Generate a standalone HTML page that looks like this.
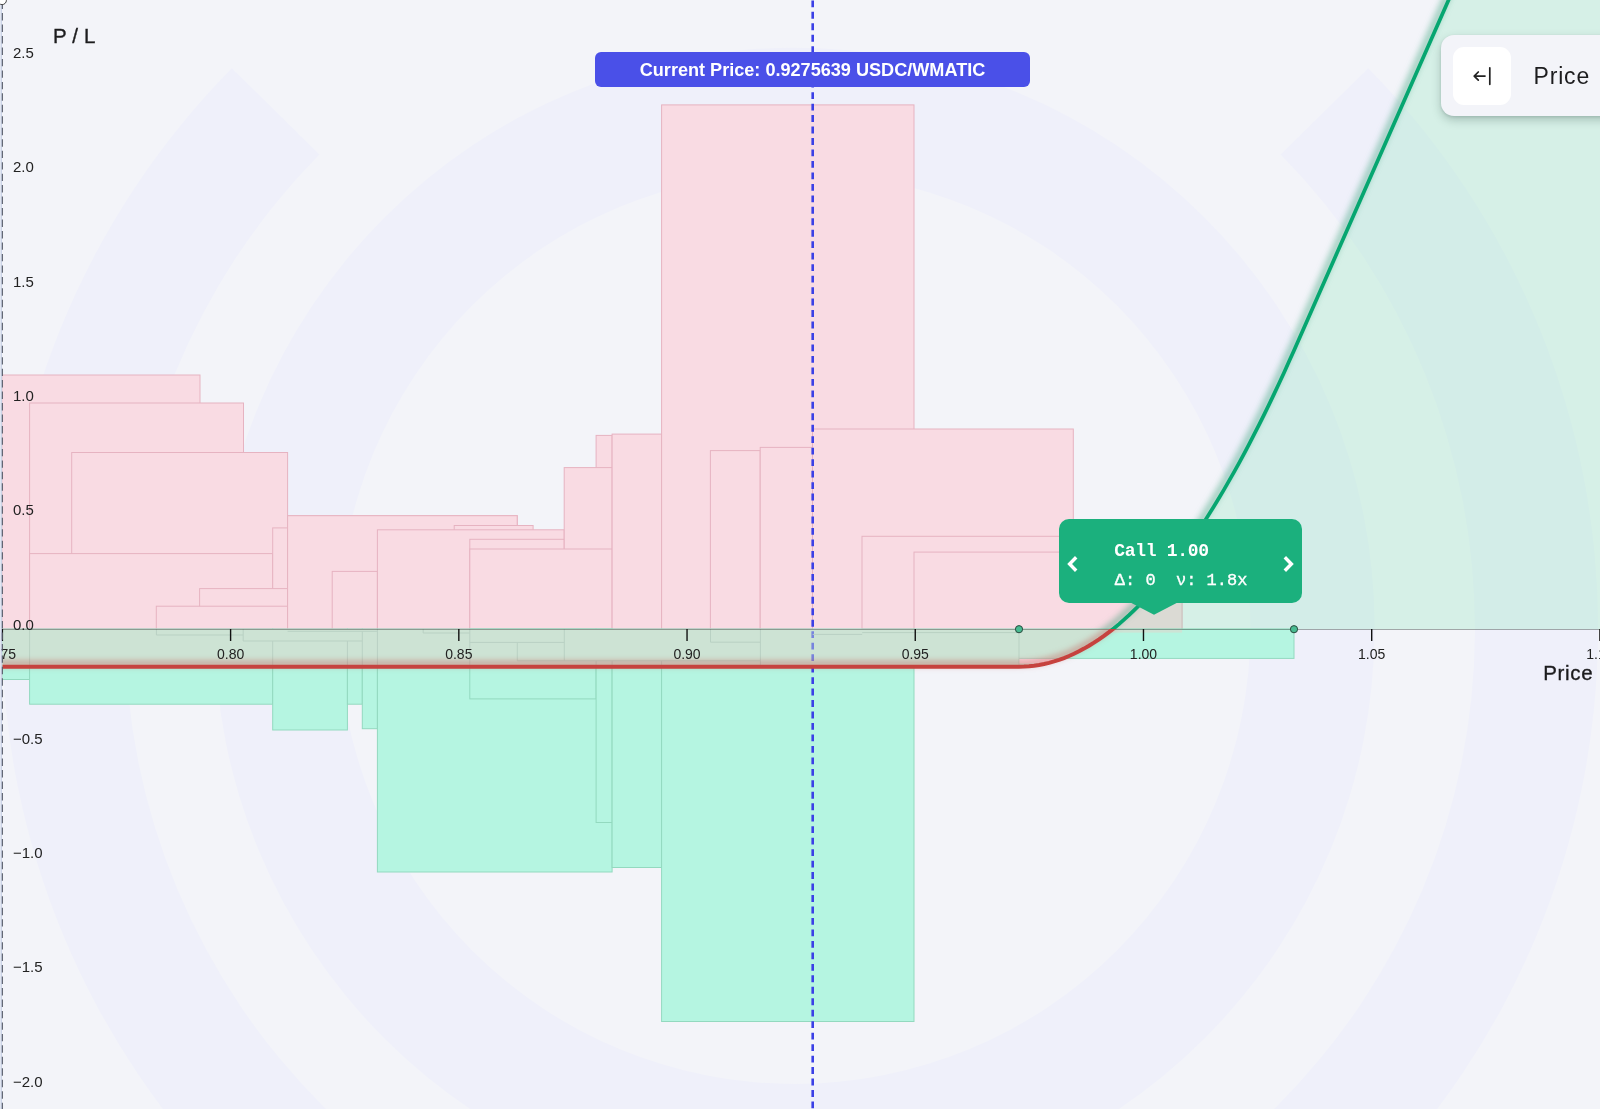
<!DOCTYPE html>
<html><head><meta charset="utf-8"><title>P/L chart</title>
<style>
html,body{margin:0;padding:0;background:#f3f4f9;overflow:hidden;}
#wrap{position:absolute;left:0;top:0;width:1600px;height:1109px;overflow:hidden;}
body{width:1600px;height:1109px;overflow:hidden;position:relative;font-family:"Liberation Sans",sans-serif;}
svg{position:absolute;left:0;top:0;}
#main{will-change:transform;}
#cp,#tip,#panel{will-change:transform;}
.tk{font-family:"Liberation Sans",sans-serif;font-size:14px;fill:#222;}
.ttl{font-family:"Liberation Sans",sans-serif;font-size:20.5px;fill:#1c1c1e;stroke:#1c1c1e;stroke-width:.35px;}
#cp{position:absolute;left:595px;top:52px;width:435px;height:35px;border-radius:6px;background:#4a50e8;color:#fff;
 font:bold 18.1px/36.6px "Liberation Sans",sans-serif;text-align:center;}
#tip{position:absolute;left:1059px;top:519px;width:243px;height:84px;border-radius:10px;background:#1bb07d;color:#fff;
 font-family:"Liberation Mono",monospace;}
#tip .l1{position:absolute;left:55.3px;top:21.9px;font-size:18px;letter-spacing:-.32px;font-weight:bold;line-height:20px;white-space:pre;}
#tip .l2{position:absolute;left:55.8px;top:52.3px;font-size:17px;-webkit-text-stroke:.35px #fff;line-height:20px;white-space:pre;}
#panel{position:absolute;left:1440.5px;top:34.5px;width:200px;height:81px;border-radius:13px;background:#f3f4f9;
 box-shadow:0 4px 10px rgba(30,60,55,.26),0 1px 3px rgba(30,60,55,.12);}
#btn{position:absolute;left:11.5px;top:11.5px;width:58px;height:58px;border-radius:11px;background:#fff;}
#plabel{position:absolute;left:92.6px;top:28.2px;font-size:23px;line-height:27px;color:#1c1c1e;letter-spacing:.8px;}
</style></head><body><div id="wrap">
<svg id="main" width="1600" height="1109" viewBox="0 0 1600 1109">
<defs>
 <clipPath id="above"><rect x="-10" y="-40" width="1720" height="669.0"/></clipPath>
 <clipPath id="below"><rect x="-10" y="629.0" width="1720" height="600"/></clipPath>
 <clipPath id="lossclip"><path d="M-5,666.7 L1019,666.7 L1024,666.59 L1029,666.27 L1034,665.73 L1039,664.98 L1044,664.01 L1049,662.83 L1054,661.44 L1059,659.83 L1064,658.01 L1069,655.98 L1074,653.74 L1079,651.28 L1084,648.62 L1089,645.74 L1094,642.65 L1099,639.35 L1104,635.85 L1109,632.13 L1114,628.2 L1119,624.07 L1124,619.72 L1129,615.17 L1134,610.41 L1139,605.44 L1144,600.27 L1149,594.89 L1154,589.3 L1159,583.5 L1164,577.51 L1169,571.3 L1174,564.89 L1179,558.28 L1184,551.46 L1189,544.43 L1194,537.21 L1199,529.77 L1204,522.14 L1209,514.3 L1214,506.27 L1219,498.02 L1224,489.58 L1229,480.94 L1234,472.09 L1239,463.05 L1244,453.8 L1249,444.35 L1254,434.71 L1259,424.86 L1264,414.81 L1269,404.57 L1274,394.13 L1279,383.49 L1284,372.65 L1289,361.61 L1294,350.38 L1470,-48.53 L1700,-60 L1700,629.0 L-5,629.0 Z"/></clipPath>
 <clipPath id="chart"><rect x="2.5" y="-40" width="1700" height="1200"/></clipPath>
 <filter id="glowG" x="-20%" y="-20%" width="140%" height="140%" color-interpolation-filters="sRGB">
  <feGaussianBlur in="SourceAlpha" stdDeviation="3.8"/><feOffset dx="-1.6" dy="-2.6"/>
  <feColorMatrix type="matrix" values="0 0 0 0 0.05  0 0 0 0 0.56  0 0 0 0 0.36  0 0 0 0.72 0"/>
  <feMerge><feMergeNode/><feMergeNode in="SourceGraphic"/></feMerge>
 </filter>
 <filter id="glowR" x="-5%" y="-60%" width="110%" height="220%" color-interpolation-filters="sRGB">
  <feGaussianBlur in="SourceAlpha" stdDeviation="3.2"/><feOffset dx="0" dy="-3.4"/>
  <feColorMatrix type="matrix" values="0 0 0 0 0.74  0 0 0 0 0.22  0 0 0 0 0.2  0 0 0 0.55 0"/>
  <feMerge><feMergeNode/><feMergeNode in="SourceGraphic"/></feMerge>
 </filter>
</defs>
<rect width="1600" height="1109" fill="#f3f4f9"/>
<path d="M214.5,628 a580,580 0 1,0 1160,0 a580,580 0 1,0 -1160,0 Z M338.5,628 a456,456 0 1,1 912,0 a456,456 0 1,1 -912,0 Z" fill="#eff0fa" fill-rule="evenodd"/><path d="M1368.2,68.18 A798,798 0 1,1 231.8,68.18 L319.38,154.55 A675,675 0 1,0 1280.62,154.55 Z" fill="#eff0fa"/>
<g clip-path="url(#chart)">
<g shape-rendering="auto">
<rect x="2.5" y="375" width="197.5" height="254" fill="#f9dbe3" stroke="#e6b3c1" stroke-width="1"/>
<rect x="29.6" y="403" width="213.9" height="226" fill="#f9dbe3" stroke="#e6b3c1" stroke-width="1"/>
<rect x="71.7" y="452.5" width="215.9" height="176.5" fill="#f9dbe3" stroke="#e6b3c1" stroke-width="1"/>
<rect x="29.6" y="553.6" width="243.1" height="75.4" fill="#f9dbe3" stroke="#e6b3c1" stroke-width="1"/>
<rect x="272.7" y="527.9" width="14.9" height="101.1" fill="#f9dbe3" stroke="#e6b3c1" stroke-width="1"/>
<rect x="287.6" y="515.7" width="229.6" height="113.3" fill="#f9dbe3" stroke="#e6b3c1" stroke-width="1"/>
<rect x="199.6" y="588.6" width="88" height="40.4" fill="#f9dbe3" stroke="#e6b3c1" stroke-width="1"/>
<rect x="156.3" y="606.2" width="131.3" height="22.8" fill="#f9dbe3" stroke="#e6b3c1" stroke-width="1"/>
<rect x="287.6" y="515.7" width="229.6" height="113.3" fill="#f9dbe3" stroke="#e6b3c1" stroke-width="1"/>
<rect x="332.2" y="571.4" width="45.2" height="57.6" fill="#f9dbe3" stroke="#e6b3c1" stroke-width="1"/>
<rect x="454.2" y="525.5" width="78.9" height="103.5" fill="#f9dbe3" stroke="#e6b3c1" stroke-width="1"/>
<rect x="377.4" y="529.8" width="186.8" height="99.2" fill="#f9dbe3" stroke="#e6b3c1" stroke-width="1"/>
<rect x="469.8" y="539.3" width="94.4" height="89.7" fill="#f9dbe3" stroke="#e6b3c1" stroke-width="1"/>
<rect x="596.1" y="435.4" width="16" height="193.6" fill="#f9dbe3" stroke="#e6b3c1" stroke-width="1"/>
<rect x="564.2" y="467.6" width="47.9" height="161.4" fill="#f9dbe3" stroke="#e6b3c1" stroke-width="1"/>
<rect x="469.8" y="549" width="142.3" height="80" fill="#f9dbe3" stroke="#e6b3c1" stroke-width="1"/>
<rect x="612.1" y="434.1" width="49.5" height="194.9" fill="#f9dbe3" stroke="#e6b3c1" stroke-width="1"/>
<rect x="661.6" y="104.9" width="252.4" height="524.1" fill="#f9dbe3" stroke="#e6b3c1" stroke-width="1"/>
<rect x="710.4" y="450.6" width="49.8" height="178.4" fill="#f9dbe3" stroke="#e6b3c1" stroke-width="1"/>
<rect x="760.2" y="447.4" width="52.3" height="181.6" fill="#f9dbe3" stroke="#e6b3c1" stroke-width="1"/>
<rect x="812.5" y="429" width="260.8" height="229.4" fill="#f9dbe3" stroke="#e6b3c1" stroke-width="1"/>
<rect x="862" y="536.3" width="211.3" height="92.7" fill="#f9dbe3" stroke="#e6b3c1" stroke-width="1"/>
<rect x="914" y="552.1" width="268.1" height="80.5" fill="#f9dbe3" stroke="#e6b3c1" stroke-width="1"/>
<rect x="2.5" y="629" width="27.1" height="50.5" fill="#b5f5e1" stroke="#93d9bf" stroke-width="1"/>
<rect x="29.6" y="629" width="243.1" height="75.2" fill="#b5f5e1" stroke="#93d9bf" stroke-width="1"/>
<rect x="272.7" y="629" width="74.7" height="101" fill="#b5f5e1" stroke="#93d9bf" stroke-width="1"/>
<rect x="347.4" y="629" width="14.9" height="75.2" fill="#b5f5e1" stroke="#93d9bf" stroke-width="1"/>
<rect x="362.3" y="629" width="15.1" height="99.7" fill="#b5f5e1" stroke="#93d9bf" stroke-width="1"/>
<rect x="377.4" y="629" width="234.7" height="243" fill="#b5f5e1" stroke="#93d9bf" stroke-width="1"/>
<rect x="469.8" y="629" width="126.3" height="69.9" fill="#b5f5e1" stroke="#93d9bf" stroke-width="1"/>
<rect x="596.1" y="629" width="16" height="193.5" fill="#b5f5e1" stroke="#93d9bf" stroke-width="1"/>
<rect x="612.1" y="629" width="49.5" height="238.5" fill="#b5f5e1" stroke="#93d9bf" stroke-width="1"/>
<rect x="661.6" y="629" width="252.4" height="392.5" fill="#b5f5e1" stroke="#93d9bf" stroke-width="1"/>
<rect x="914" y="629" width="105" height="35" fill="#b5f5e1" stroke="#93d9bf" stroke-width="1"/>
<rect x="1019" y="629" width="275" height="29.4" fill="#b5f5e1" stroke="#93d9bf" stroke-width="1"/>
</g>
<rect x="1073.3" y="629.5" width="108.8" height="3.1" fill="#cde3d5"/>
<!-- band between axis and loss line -->
<g clip-path="url(#below)"><path d="M-5,666.7 L1019,666.7 L1024,666.59 L1029,666.27 L1034,665.73 L1039,664.98 L1044,664.01 L1049,662.83 L1054,661.44 L1059,659.83 L1064,658.01 L1069,655.98 L1074,653.74 L1079,651.28 L1084,648.62 L1089,645.74 L1094,642.65 L1099,639.35 L1104,635.85 L1109,632.13 L1114,628.2 L1119,624.07 L1124,619.72 L1129,615.17 L1134,610.41 L1139,605.44 L1144,600.27 L1149,594.89 L1154,589.3 L1159,583.5 L1164,577.51 L1169,571.3 L1174,564.89 L1179,558.28 L1184,551.46 L1189,544.43 L1194,537.21 L1199,529.77 L1204,522.14 L1209,514.3 L1214,506.27 L1219,498.02 L1224,489.58 L1229,480.94 L1234,472.09 L1239,463.05 L1244,453.8 L1249,444.35 L1254,434.71 L1259,424.86 L1264,414.81 L1269,404.57 L1274,394.13 L1279,383.49 L1284,372.65 L1289,361.61 L1294,350.38 L1470,-48.53 L1700,-60 L1700,629.0 L-5,629.0 Z" fill="#cde3d5"/></g>
<!-- current price dashed line -->
<line x1="812.7" x2="812.7" y1="0.4" y2="1109" stroke="#3b40e6" stroke-width="2.6" stroke-dasharray="6.85 4.62"/>
<g clip-path="url(#below)"><path d="M-5,666.7 L1019,666.7 L1024,666.59 L1029,666.27 L1034,665.73 L1039,664.98 L1044,664.01 L1049,662.83 L1054,661.44 L1059,659.83 L1064,658.01 L1069,655.98 L1074,653.74 L1079,651.28 L1084,648.62 L1089,645.74 L1094,642.65 L1099,639.35 L1104,635.85 L1109,632.13 L1114,628.2 L1119,624.07 L1124,619.72 L1129,615.17 L1134,610.41 L1139,605.44 L1144,600.27 L1149,594.89 L1154,589.3 L1159,583.5 L1164,577.51 L1169,571.3 L1174,564.89 L1179,558.28 L1184,551.46 L1189,544.43 L1194,537.21 L1199,529.77 L1204,522.14 L1209,514.3 L1214,506.27 L1219,498.02 L1224,489.58 L1229,480.94 L1234,472.09 L1239,463.05 L1244,453.8 L1249,444.35 L1254,434.71 L1259,424.86 L1264,414.81 L1269,404.57 L1274,394.13 L1279,383.49 L1284,372.65 L1289,361.61 L1294,350.38 L1470,-48.53 L1700,-60 L1700,629.0 L-5,629.0 Z" fill="#cde3d5" opacity="0.42"/></g>
<path d="M29.6,629 V666 M156.4,629 V635 M156.4,635 H243 M243.2,629 V641 M243.2,641 H362.3 M287.6,631.3 H377.4 M272.7,641 V666 M347.4,641 V666 M362.3,631.3 V666 M377.4,629 V666 M423.2,629 V633 M423.2,633 H469.8 M469.8,629 V666 M469.8,642.4 H564.3 M517.3,642.4 V660.8 M517.3,660.8 H760.4 M564.3,629 V660.8 M596.1,660.8 V666 M612.1,660.8 V666 M661.6,660.8 V666 M710.5,629 V642.2 M710.5,642.2 H760.4 M760.4,629 V666 M812.6,634.4 H862.2 M862.2,632.6 H1019 M1019,629 V666 " fill="none" stroke="#b9d1c3" stroke-width="1"/>
<g clip-path="url(#lossclip)"><rect x="1019.5" y="658.9" width="53.8" height="4.6" fill="#fad8de"/><path d="M1019,658.4 H1073.3" stroke="#b9d1c3" stroke-width="1" fill="none"/></g>
<!-- profit area -->
<g clip-path="url(#above)"><path d="M-5,666.7 L1019,666.7 L1024,666.59 L1029,666.27 L1034,665.73 L1039,664.98 L1044,664.01 L1049,662.83 L1054,661.44 L1059,659.83 L1064,658.01 L1069,655.98 L1074,653.74 L1079,651.28 L1084,648.62 L1089,645.74 L1094,642.65 L1099,639.35 L1104,635.85 L1109,632.13 L1114,628.2 L1119,624.07 L1124,619.72 L1129,615.17 L1134,610.41 L1139,605.44 L1144,600.27 L1149,594.89 L1154,589.3 L1159,583.5 L1164,577.51 L1169,571.3 L1174,564.89 L1179,558.28 L1184,551.46 L1189,544.43 L1194,537.21 L1199,529.77 L1204,522.14 L1209,514.3 L1214,506.27 L1219,498.02 L1224,489.58 L1229,480.94 L1234,472.09 L1239,463.05 L1244,453.8 L1249,444.35 L1254,434.71 L1259,424.86 L1264,414.81 L1269,404.57 L1274,394.13 L1279,383.49 L1284,372.65 L1289,361.61 L1294,350.38 L1470,-48.53 L1700,-60 L1700,629.0 L-5,629.0 Z" fill="rgba(20,213,118,0.13)"/></g>
<line x1="2.5" x2="1600" y1="629.5" y2="629.5" stroke="#1d2b25" stroke-opacity=".38" stroke-width="1"/>
<!-- curve -->
<g clip-path="url(#below)"><path d="M-5,666.7 L1019,666.7 L1024,666.59 L1029,666.27 L1034,665.73 L1039,664.98 L1044,664.01 L1049,662.83 L1054,661.44 L1059,659.83 L1064,658.01 L1069,655.98 L1074,653.74 L1079,651.28 L1084,648.62 L1089,645.74 L1094,642.65 L1099,639.35 L1104,635.85 L1109,632.13 L1114,628.2 L1119,624.07 L1124,619.72 L1129,615.17 L1134,610.41 L1139,605.44 L1144,600.27 L1149,594.89 L1154,589.3 L1159,583.5 L1164,577.51 L1169,571.3 L1174,564.89 L1179,558.28 L1184,551.46 L1189,544.43 L1194,537.21 L1199,529.77 L1204,522.14 L1209,514.3 L1214,506.27 L1219,498.02 L1224,489.58 L1229,480.94 L1234,472.09 L1239,463.05 L1244,453.8 L1249,444.35 L1254,434.71 L1259,424.86 L1264,414.81 L1269,404.57 L1274,394.13 L1279,383.49 L1284,372.65 L1289,361.61 L1294,350.38 L1470,-48.53" fill="none" stroke="#c6423e" stroke-width="4" filter="url(#glowR)"/></g>
<g clip-path="url(#above)"><path d="M-5,666.7 L1019,666.7 L1024,666.59 L1029,666.27 L1034,665.73 L1039,664.98 L1044,664.01 L1049,662.83 L1054,661.44 L1059,659.83 L1064,658.01 L1069,655.98 L1074,653.74 L1079,651.28 L1084,648.62 L1089,645.74 L1094,642.65 L1099,639.35 L1104,635.85 L1109,632.13 L1114,628.2 L1119,624.07 L1124,619.72 L1129,615.17 L1134,610.41 L1139,605.44 L1144,600.27 L1149,594.89 L1154,589.3 L1159,583.5 L1164,577.51 L1169,571.3 L1174,564.89 L1179,558.28 L1184,551.46 L1189,544.43 L1194,537.21 L1199,529.77 L1204,522.14 L1209,514.3 L1214,506.27 L1219,498.02 L1224,489.58 L1229,480.94 L1234,472.09 L1239,463.05 L1244,453.8 L1249,444.35 L1254,434.71 L1259,424.86 L1264,414.81 L1269,404.57 L1274,394.13 L1279,383.49 L1284,372.65 L1289,361.61 L1294,350.38 L1470,-48.53" fill="none" stroke="#06a670" stroke-width="3.7" filter="url(#glowG)"/></g>
</g>
<!-- axis -->
<line x1="2.38" x2="2.38" y1="629.0" y2="641.0" stroke="#111" stroke-width="1.4"/><line x1="230.6" x2="230.6" y1="629.0" y2="641.0" stroke="#111" stroke-width="1.4"/><line x1="458.82" x2="458.82" y1="629.0" y2="641.0" stroke="#111" stroke-width="1.4"/><line x1="687.04" x2="687.04" y1="629.0" y2="641.0" stroke="#111" stroke-width="1.4"/><line x1="915.26" x2="915.26" y1="629.0" y2="641.0" stroke="#111" stroke-width="1.4"/><line x1="1143.48" x2="1143.48" y1="629.0" y2="641.0" stroke="#111" stroke-width="1.4"/><line x1="1371.7" x2="1371.7" y1="629.0" y2="641.0" stroke="#111" stroke-width="1.4"/><line x1="1599.92" x2="1599.92" y1="629.0" y2="641.0" stroke="#111" stroke-width="1.4"/>
<text x="2.38" y="658.6" text-anchor="middle" class="tk">0.75</text><text x="230.6" y="658.6" text-anchor="middle" class="tk">0.80</text><text x="458.82" y="658.6" text-anchor="middle" class="tk">0.85</text><text x="687.04" y="658.6" text-anchor="middle" class="tk">0.90</text><text x="915.26" y="658.6" text-anchor="middle" class="tk">0.95</text><text x="1143.48" y="658.6" text-anchor="middle" class="tk">1.00</text><text x="1371.7" y="658.6" text-anchor="middle" class="tk">1.05</text><text x="1599.92" y="658.6" text-anchor="middle" class="tk">1.10</text>
<text x="13" y="58" class="tk" style="font-size:15px">2.5</text><text x="13" y="172.3" class="tk" style="font-size:15px">2.0</text><text x="13" y="286.6" class="tk" style="font-size:15px">1.5</text><text x="13" y="400.9" class="tk" style="font-size:15px">1.0</text><text x="13" y="515.2" class="tk" style="font-size:15px">0.5</text><text x="13" y="629.5" class="tk" style="font-size:15px">0.0</text><text x="13" y="743.8" class="tk" style="font-size:15px">−0.5</text><text x="13" y="858.1" class="tk" style="font-size:15px">−1.0</text><text x="13" y="972.4" class="tk" style="font-size:15px">−1.5</text><text x="13" y="1086.7" class="tk" style="font-size:15px">−2.0</text>
<text x="53.1" y="43.1" class="ttl" style="letter-spacing:.1px">P / L</text>
<text x="1593.4" y="679.8" text-anchor="end" class="ttl" style="letter-spacing:.7px">Price</text>
<!-- range dots -->
<circle cx="1019" cy="629.2" r="3.6" fill="#48bb91" stroke="#2a4a3e" stroke-width="1"/>
<circle cx="1294" cy="629.2" r="3.6" fill="#48bb91" stroke="#2a4a3e" stroke-width="1"/>
<!-- left edge -->
<line x1="1.2" x2="1.2" y1="0" y2="1109" stroke="#b4c2e0" stroke-width="0.9"/>
<line x1="2.35" x2="2.35" y1="1.6" y2="1109" stroke="#555a66" stroke-width="1.1" stroke-dasharray="7.4 4.07"/>
<circle cx="2.1" cy="0.3" r="4.3" fill="#fff" stroke="#444" stroke-width="1"/>
<!-- tooltip pointer -->
<path d="M1129.5,602 L1178.5,602 L1154,614.7 Z" fill="#1bb07d"/>
</svg>
<div id="cp">Current Price: 0.9275639 USDC/WMATIC</div>
<div id="tip"><div class="l1">Call 1.00</div><div class="l2">Δ: 0  ν: 1.8x</div>
<svg width="243" height="84" viewBox="0 0 243 84" style="left:0;top:0"><path d="M17.2,38.2 L10.6,45 L17.2,51.8" fill="none" stroke="#fff" stroke-width="3.4" stroke-linejoin="miter"/><path d="M225.8,38.2 L232.4,45 L225.8,51.8" fill="none" stroke="#fff" stroke-width="3.4"/></svg></div>
<div id="panel"><div id="btn"><svg width="58" height="58" viewBox="0 0 58 58"><path d="M32,29.1 L21.4,29.1 M25.3,25 L21.2,29.1 L25.3,33.2 M36.8,20.8 L36.8,37.3" fill="none" stroke="#222" stroke-width="1.7" stroke-linecap="round" stroke-linejoin="round"/></svg></div><div id="plabel">Price</div></div>
</div></body></html>
